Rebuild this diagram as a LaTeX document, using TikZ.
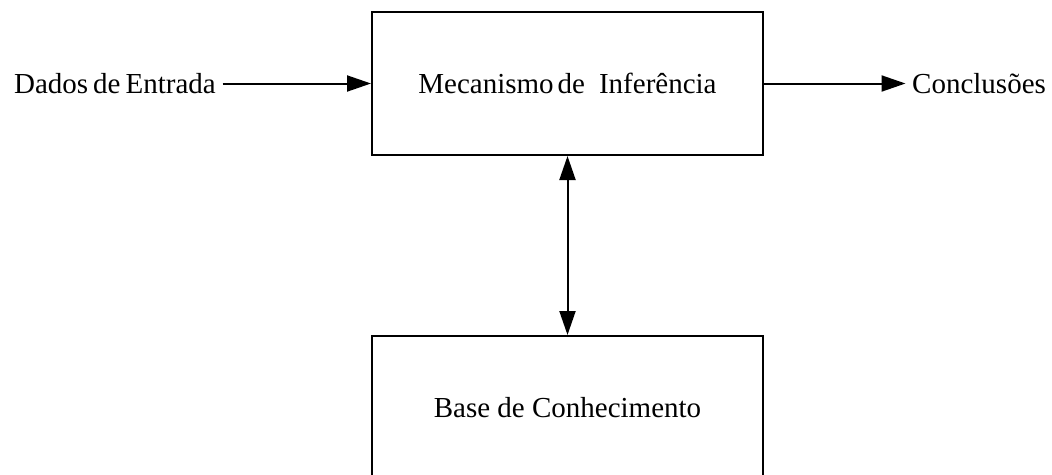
\documentclass[tikz,border=0pt]{standalone}
\usepackage{fontspec}
\setmainfont{Liberation Serif}
\usetikzlibrary{arrows.meta}
\tikzset{
  blk/.style={draw, line width=2pt, minimum width=391pt, minimum height=143pt, inner sep=0pt},
  lbl/.style={inner sep=0pt, inner xsep=6.5pt},
  tip/.style={Triangle[length=24pt,width=16pt]},
  conn/.style={line width=2pt},
}
\begin{document}
\begin{tikzpicture}[x=1pt, y=-1pt, font=\fontsize{29}{34}\selectfont]
  \useasboundingbox (0,0) rectangle (1052,474);
  % processing blocks
  \node[blk] (mec) at (567.5,83.5) {Mecanismo\hspace{4pt}de\hspace{14pt}Inferência};
  \node[blk] (base) at (567.5,407.5) {Base de Conhecimento};
  % input and output labels
  \node[lbl, anchor=east] (in) at (222.5,83.5) {Dados\hspace{5pt}de\hspace{5pt}Entrada};
  \node[lbl, anchor=west] (out) at (905.5,83.5) {Conclusões};
  % connectors
  \draw[conn, -{Triangle[length=24pt,width=16pt]}] (in.east) -- (in.east -| mec.west);
  \draw[conn, -{Triangle[length=24pt,width=16pt]}] (mec.east) -- (mec.east -| out.west);
  \draw[conn, {Triangle[length=24pt,width=16pt]}-{Triangle[length=24pt,width=16pt]}] (mec.south) -- (base.north);
\end{tikzpicture}
\end{document}
